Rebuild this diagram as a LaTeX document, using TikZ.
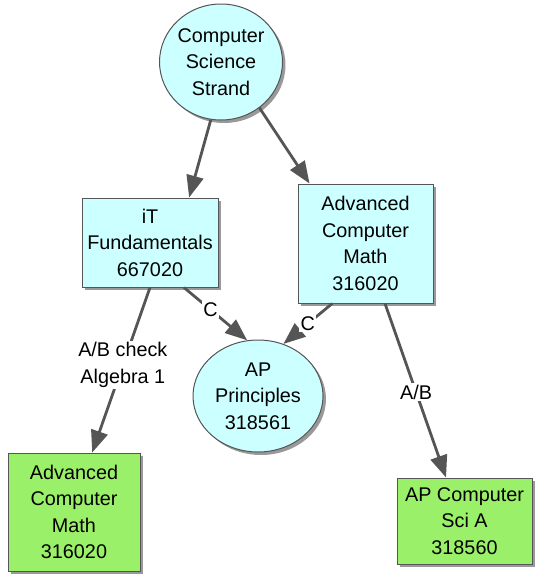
\documentclass[tikz,border=0pt]{standalone}
\usepackage{fontspec}
\setmainfont{Liberation Sans}
\usetikzlibrary{shapes.geometric,shadows,arrows.meta}
\definecolor{coursecyan}{RGB}{204,255,255}
\definecolor{coursegreen}{RGB}{155,240,105}
\definecolor{linkgray}{RGB}{85,85,85}
\tikzset{
    course/.style={draw=linkgray, line width=1pt, align=center, inner sep=0pt,
        font=\fontsize{19.8}{26.5}\selectfont,
        drop shadow={shadow xshift=3pt, shadow yshift=-3pt, fill=black!40, opacity=1}},
    strand/.style={course, ellipse, fill=coursecyan},
    box/.style={course, rectangle, fill=coursecyan},
    goal/.style={course, rectangle, fill=coursegreen},
    link/.style={draw=linkgray, line width=2.8pt, -{Triangle[length=22pt, width=17pt]}},
    lbl/.style={fill=white, inner sep=1.5pt, align=center, font=\fontsize{19.8}{26.5}\selectfont}
}
\begin{document}
\begin{tikzpicture}[x=1pt, y=-1pt]
        \useasboundingbox (0,0) rectangle (537,576);
        \node[strand, minimum width=120pt, minimum height=116pt] (css) at (221,62) {Computer\\Science\\Strand};
        \node[box, minimum width=136pt, minimum height=89pt] (itf) at (150,242.5) {iT\\Fundamentals\\667020};
        \node[box, minimum width=135pt, minimum height=119pt] (acm) at (365.5,243.5) {Advanced\\Computer\\Math\\316020};
        \node[strand, minimum width=130pt, minimum height=112pt] (app) at (258,396) {AP\\Principles\\318561};
        \node[goal, minimum width=132pt, minimum height=118pt] (acmb) at (74,512) {Advanced\\Computer\\Math\\316020};
        \node[goal, minimum width=135pt, minimum height=86pt] (apcs) at (464.5,521) {AP Computer\\Sci A\\318560};
        \draw[link] (css.260) -- (itf.49.5);
        \draw[link] (css.310) -- (acm.133);
        \draw[link] (itf.307.6) -- node[lbl, pos=0.42] {C} (app.101);
        \draw[link] (acm.241.4) -- node[lbl, pos=0.5] {C} (app.64.8);
        \draw[link] (itf.south) -- node[lbl, pos=0.47] {A/B check\\Algebra 1} (acmb.73);
        \draw[link] (acm.288) -- node[lbl, pos=0.51] {A/B} (apcs.113);
    \end{tikzpicture}
\end{document}
